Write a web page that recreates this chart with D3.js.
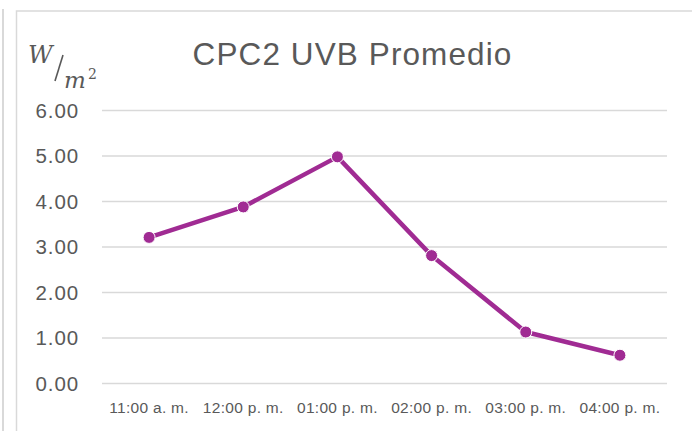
<!DOCTYPE html>
<html>
<head>
<meta charset="utf-8">
<script src="https://cdn.jsdelivr.net/npm/d3@7"></script>
<style>
  body { margin: 0; background: #fff; }
  svg { display: block; font-family: "Liberation Sans", Arial, sans-serif; }
</style>
</head>
<body>
<div id="chart"></div>
<script>
const categories = ['11:00 a. m.', '12:00 p. m.', '01:00 p. m.', '02:00 p. m.', '03:00 p. m.', '04:00 p. m.'];
const uvbValues = [3.20, 3.87, 4.97, 2.80, 1.12, 0.61];
const yTicks = [0, 1, 2, 3, 4, 5, 6];

const width = 692, height = 431;
const margin = { top: 110, right: 25, bottom: 48, left: 102 };
const textColor = '#595959';
const lineColor = '#A02B93';

const svg = d3.select('#chart').append('svg').attr('width', width).attr('height', height);

// frames
svg.append('line').attr('x1', 3).attr('x2', 3).attr('y1', 9).attr('y2', height)
	.attr('stroke', '#d9d9d9').attr('stroke-width', 2);
svg.append('rect').attr('x', 16.5).attr('y', 11).attr('width', width).attr('height', height)
	.attr('fill', 'none').attr('stroke', '#d9d9d9').attr('stroke-width', 1.5);

const x = d3.scaleBand().domain(categories).range([margin.left, width - margin.right]);
const y = d3.scaleLinear().domain([0, 6]).range([height - margin.bottom, margin.top]);

// gridlines
svg.append('g')
	.attr('transform', `translate(${margin.left},0)`)
	.call(d3.axisLeft(y).tickValues(yTicks).tickSize(-(width - margin.left - margin.right)).tickFormat(''))
	.call(g => g.select('.domain').remove())
	.call(g => g.selectAll('line').attr('stroke', '#d9d9d9').attr('stroke-width', 1.5));

// y labels
svg.append('g')
	.attr('transform', `translate(${margin.left - 23},0)`)
	.call(d3.axisLeft(y).tickValues(yTicks).tickSize(0).tickFormat(d3.format('.2f')))
	.call(g => g.select('.domain').remove())
	.call(g => g.selectAll('text').attr('fill', textColor).attr('font-size', 20.5).attr('letter-spacing', 0.9)
		.attr('dy', '0.36em').attr('x', 0).attr('font-family', '"Liberation Sans", Arial, sans-serif'));

// x labels
svg.append('g')
	.attr('transform', `translate(0,${height - margin.bottom})`)
	.call(d3.axisBottom(x).tickSize(0))
	.call(g => g.select('.domain').remove())
	.call(g => g.selectAll('text').attr('fill', textColor).attr('font-size', 15.5).attr('letter-spacing', 0.3)
		.attr('y', 30).attr('dy', 0).attr('font-family', '"Liberation Sans", Arial, sans-serif'));

// line
const line = d3.line().x((d, i) => x(categories[i]) + x.bandwidth() / 2).y(d => y(d));
svg.append('path').datum(uvbValues)
	.attr('d', line).attr('fill', 'none').attr('stroke', lineColor)
	.attr('stroke-width', 4.5).attr('stroke-linejoin', 'round');

svg.selectAll('circle.pt').data(uvbValues).enter().append('circle')
	.attr('class', 'pt')
	.attr('cx', (d, i) => x(categories[i]) + x.bandwidth() / 2)
	.attr('cy', d => y(d))
	.attr('r', 6)
	.attr('fill', lineColor).attr('stroke', '#fff').attr('stroke-width', 1);

// title
svg.append('text').attr('x', 352.5).attr('y', 65).attr('text-anchor', 'middle')
	.attr('fill', textColor).attr('font-size', 31.5).attr('letter-spacing', 1.1)
	.text('CPC2 UVB Promedio');

// unit W/m²
const unit = svg.append('g').attr('fill', textColor)
	.attr('font-family', '"DejaVu Serif", "Liberation Serif", serif').attr('font-style', 'italic');
unit.append('text').attr('x', 28).attr('y', 63).attr('font-size', 24).text('W');
unit.append('line').attr('x1', 63).attr('y1', 55).attr('x2', 55).attr('y2', 81)
	.attr('stroke', textColor).attr('stroke-width', 1.6);
unit.append('text').attr('x', 64).attr('y', 88).attr('font-size', 23).text('m');
unit.append('text').attr('x', 88).attr('y', 79).attr('font-size', 14).attr('font-style', 'normal').text('2');
</script>
</body>
</html>
